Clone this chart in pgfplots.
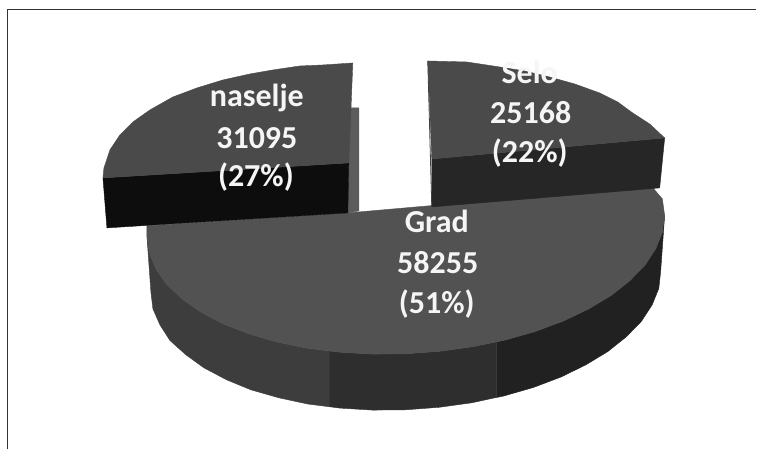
\documentclass[border=0pt]{standalone}
\usepackage{pgfplots}
\pgfplotsset{compat=1.18}
\usepackage{fontspec}
\setmainfont{Carlito}
\definecolor{topface}{gray}{0.32}
\definecolor{sideL}{gray}{0.24}
\definecolor{sideM}{gray}{0.18}
\definecolor{sideR}{gray}{0.13}
\definecolor{sliceTop}{gray}{0.29}
\definecolor{sideSelo}{gray}{0.15}
\definecolor{sideNas}{gray}{0.05}
\definecolor{strip}{gray}{0.36}
\tikzset{lab/.style={font=\fontsize{32}{32}\selectfont\bfseries, text=white!96!black, inner sep=0pt}}
\begin{document}
\begin{tikzpicture}
\begin{axis}[
    scale only axis,
    width=757pt, height=450pt,
    xmin=0, xmax=757, ymin=0, ymax=450,
    y dir=reverse,
    hide axis,
    clip=false,
    every axis plot post/.append style={no marks},
]
% white page, keeps the bounding box at full size
\addplot[fill=white, draw=none] coordinates {(0,0) (757,0) (757,450) (0,450) (0,0)};
% frame: top and left rule only
\addplot[draw=black!80, line width=1.8pt] coordinates {(7.5,449.5) (7.5,9.5) (756.5,9.5)};

% Grad, rim in three shades
\addplot[fill=sideL, draw=sideL] coordinates {
(147,236.4) (149.3,253) (156,269.1) (166.7,284.6) (182,299) (200.6,312.1) (223,323.9) (248.3,333.8) (276.5,342.1) (306.8,348.3) (330,351.2)
(330,407) (308.3,404.3) (279,398) (251,390) (226.7,380) (204,368) (186,355) (170,340.6) (160,325) (153,309) (151,292.4) (147,236.4)};
\addplot[fill=sideM, draw=sideM] coordinates {
(330,351.2) (339,352.3) (372.1,354.3) (406,354) (439.9,351.5) (473,346.9) (497,342)
(497,397.6) (472,403) (439.4,407.5) (406,410) (372.6,410.3) (340,408.3) (330,407) (330,351.2)};
\addplot[fill=sideR, draw=sideR] coordinates {
(497,342) (505.2,340.3) (535.5,331.7) (563.7,321.2) (589,309.1) (611.4,295.7) (630,281) (645.3,265.4) (656,249.1) (662.7,232.4) (665,215.6)
(661,271.6) (659.2,288.4) (652.5,305) (641.8,321.4) (626.6,337) (608.2,351.7) (586.2,365) (561.3,377.2) (533.6,387.7) (503.7,396.3) (497,397.6) (497,342)};

% Grad, top face
\addplot[fill=topface, draw=topface] coordinates {
(147,226) (147,236.4) (149.3,253) (156,269.1) (166.7,284.6) (182,299) (200.6,312.1) (223,323.9) (248.3,333.8) (276.5,342.1) (306.8,348.3)
(339,352.3) (372.1,354.3) (406,354) (439.9,351.5) (473,346.9) (505.2,340.3) (535.5,331.7) (563.7,321.2) (589,309.1) (611.4,295.7) (630,281)
(645.3,265.4) (656,249.1) (662.7,232.4) (665,215.6) (662.7,199) (652,186.5) (348,213) (147,226)};

% naselje
\addplot[fill=strip, draw=strip] coordinates {(350,108) (359,108) (359,211) (348,213) (350,108)};
\addplot[fill=sideNas, draw=sideNas] coordinates {(103,178) (349,163) (348,213) (107,228) (103,178)};
\addplot[fill=sliceTop, draw=sliceTop] coordinates {
(103,178) (104,168) (110,150) (120,135) (133,122) (150,110) (173,97) (197,88) (223,80) (250,74) (273,70) (300,66) (323,65) (353,63) (349,163) (103,178)};

% Selo
\addplot[fill=sideSelo, draw=sideSelo] coordinates {(432,159) (665,138) (660,188) (432,207) (432,159)};
\addplot[fill=sliceTop, draw=sliceTop] coordinates {
(428,61) (467,62) (500,67) (525,71) (550,77) (575,84) (600,93) (618,102) (633,113) (650,124) (665,138) (432,159) (428,61)};
\addplot[draw=black!75, line width=0.8pt] coordinates {(428,61) (432,207)};

\node[lab] at (axis cs:257,98) {naselje};
\node[lab] at (axis cs:257,138) {31095};
\node[lab] at (axis cs:256,177) {(27\%)};
\node[lab] at (axis cs:530,72) {Selo};
\node[lab] at (axis cs:531,113) {25168};
\node[lab] at (axis cs:530,153) {(22\%)};
\node[lab] at (axis cs:437,222) {Grad};
\node[lab] at (axis cs:438,263) {58255};
\node[lab] at (axis cs:437,304) {(51\%)};
\end{axis}
\end{tikzpicture}
\end{document}
